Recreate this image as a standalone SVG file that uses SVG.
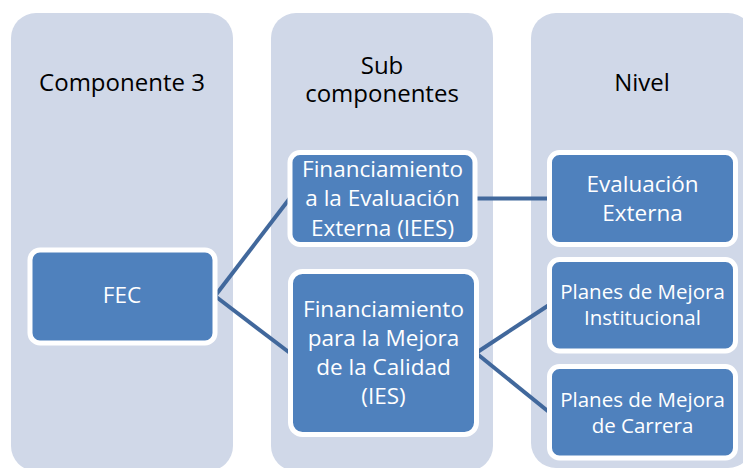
<svg xmlns="http://www.w3.org/2000/svg" width="743" height="468" viewBox="0 0 743 468">
  <style>
    .col { fill: #d0d8e8; }
    .node { fill: #4f81bd; stroke: #ffffff; stroke-width: 5; }
    .hdr { font-family: "Open Sans", "Liberation Sans", sans-serif; font-size: 24px; fill: #000000; text-anchor: middle; }
    .lbl { font-family: "Open Sans", "Liberation Sans", sans-serif; font-size: 22.5px; fill: #ffffff; text-anchor: middle; }
    .sm { font-size: 20.5px; }
    .conn line { stroke: #41689c; stroke-width: 4; fill: none; }
  </style>
  <rect width="743" height="468" fill="#ffffff"/>
  <g id="columns">
    <g id="col1">
      <rect class="col" x="11" y="13" width="222" height="458" rx="25"/>
      <text class="hdr" x="122" y="91">Componente 3</text>
    </g>
    <g id="col2">
      <rect class="col" x="271" y="13" width="222" height="458" rx="25"/>
      <text class="hdr" x="382" y="74">Sub</text>
      <text class="hdr" x="382" y="102">componentes</text>
    </g>
    <g id="col3">
      <rect class="col" x="531" y="13" width="222" height="455" rx="25"/>
      <text class="hdr" x="642" y="91">Nivel</text>
    </g>
  </g>
  <g id="connectors" class="conn">
    <line x1="215" y1="296" x2="290" y2="198"/>
    <line x1="215" y1="296" x2="290" y2="353"/>
    <line x1="475" y1="198.5" x2="549" y2="198.5"/>
    <line x1="476" y1="353" x2="549" y2="305"/>
    <line x1="476" y1="353" x2="549" y2="412"/>
  </g>
  <g id="fec">
    <rect class="node" x="30" y="250" width="185" height="93" rx="10"/>
    <text class="lbl" x="122" y="303">FEC</text>
  </g>
  <g id="fin-eval">
    <rect class="node" x="290" y="152.5" width="185" height="92" rx="10"/>
    <text class="lbl" x="382.5" y="177">Financiamiento</text>
    <text class="lbl" x="382.5" y="206">a la Evaluación</text>
    <text class="lbl" x="382.5" y="236">Externa (IEES)</text>
  </g>
  <g id="fin-mejora">
    <rect class="node" x="290.5" y="271.5" width="186" height="163" rx="12"/>
    <text class="lbl" x="383.5" y="317">Financiamiento</text>
    <text class="lbl" x="383.5" y="346">para la Mejora</text>
    <text class="lbl" x="383.5" y="375">de la Calidad</text>
    <text class="lbl" x="383.5" y="404">(IES)</text>
  </g>
  <g id="eval-ext">
    <rect class="node" x="549.5" y="152.5" width="186" height="92" rx="10"/>
    <text class="lbl" x="642.5" y="192">Evaluación</text>
    <text class="lbl" x="642.5" y="221">Externa</text>
  </g>
  <g id="planes-inst">
    <rect class="node" x="549.5" y="259.5" width="186" height="91.5" rx="10"/>
    <text class="lbl sm" x="642.5" y="299">Planes de Mejora</text>
    <text class="lbl sm" x="642.5" y="325">Institucional</text>
  </g>
  <g id="planes-carr">
    <rect class="node" x="549.5" y="366.5" width="186" height="91.5" rx="10"/>
    <text class="lbl sm" x="642.5" y="407">Planes de Mejora</text>
    <text class="lbl sm" x="642.5" y="433">de Carrera</text>
  </g>
</svg>
